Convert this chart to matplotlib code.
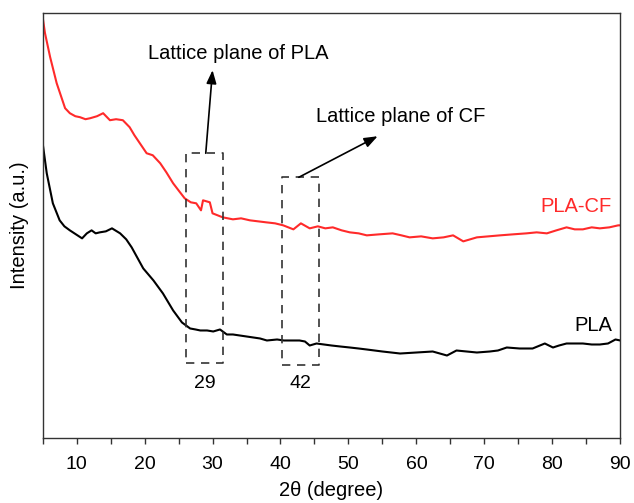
import matplotlib
matplotlib.use("Agg")
import matplotlib.pyplot as plt
import numpy as np

plt.rcParams['font.family'] = ['Liberation Sans', 'DejaVu Sans']

# Intensity in arbitrary units (higher = more intense)
# PLA-CF (red)
x_cf = [5.0, 5.02, 5.34, 6.1, 7.06, 8.3, 9.0, 9.8, 10.5, 11.3, 12.0, 13.0, 13.9, 14.9, 15.8,
        16.8, 17.8, 18.5, 19.3, 20.3, 21.2, 22.3, 23.2, 24.2, 25.1, 25.9, 26.8, 27.6, 28.3,
        28.6, 29.6, 30.0, 31.5, 33.0, 34.2, 35.5, 36.7, 37.9, 39.2, 40.4, 41.9,
        43.0, 44.3, 45.5, 46.6, 47.7, 49.0, 50.2, 51.5, 52.7, 54.5, 56.5, 57.8, 59.0, 60.7,
        62.4, 64.0, 65.4, 66.9, 68.9, 70.6, 72.3, 74.2, 76.2, 77.7, 79.2, 80.6, 82.1, 83.3,
        84.5, 85.8, 87.0, 88.4, 89.7, 90.0]
y_cf = [385, 419, 404, 380, 354, 329, 324, 321, 320, 318, 319, 321, 324, 317, 318,
        317, 310, 302, 294, 284, 282, 274, 265, 254, 246, 239, 235, 234, 227,
        237, 235, 224, 220, 218, 219, 217, 216, 215, 214, 212, 208,
        214, 209, 211, 209, 210, 207, 205, 204, 202, 203, 204, 202, 200, 201,
        199, 200, 202, 196, 200, 201, 202, 203, 204, 205, 204, 207, 210, 208,
        208, 210, 209, 210, 212, 212]

# PLA (black)
x_pla = [5.0, 5.6, 6.5, 7.5, 8.2, 9.0, 9.9, 10.8, 11.5, 12.2, 12.8, 13.4, 14.3, 15.2, 16.4,
         17.3, 18.1, 19.8, 21.3, 22.7, 24.2, 25.5, 26.7, 27.5, 28.2, 29.2, 30.1, 31.1, 32.1,
         33.0, 34.0, 35.0, 36.0, 37.0, 38.0, 39.5, 40.5, 41.4, 42.8, 43.6,
         44.3, 45.3, 46.4, 47.5, 48.8, 50.2, 51.5, 52.7, 55.0, 57.6, 60.0, 62.4, 64.5, 65.9,
         67.4, 68.9, 70.8, 72.0, 73.3, 75.2, 77.1, 78.9, 80.1, 81.0, 82.1, 83.3, 84.5, 85.8,
         87.0, 88.2, 89.3, 90.0]
y_pla = [294, 264, 234, 217, 211, 207, 203, 199, 204, 207, 204, 205, 206, 209, 204,
         198, 190, 169, 157, 144, 127, 115, 109, 108, 107, 107, 106, 108, 103,
         103, 102, 101, 100, 99, 97, 98, 97, 97, 97, 96,
         92, 94, 93, 92, 91, 90, 89, 88, 86, 84, 85, 86, 82, 87,
         86, 85, 86, 87, 90, 89, 89, 94, 90, 92, 94, 94, 94, 93,
         93, 94, 98, 97]

xticks = [10, 20, 30, 40, 50, 60, 70, 80, 90]

fig = plt.figure(figsize=(6.34, 5.03), dpi=100)
ax = fig.add_axes([0.0673, 0.130, 0.911, 0.844])

ax.plot(x_cf, y_cf, color='#ff2a2a', lw=1.5)
ax.plot(x_pla, y_pla, color='black', lw=1.5)

ax.set_xlim(5, 90)
ax.set_ylim(0, 424)
ax.set_xticks(xticks)
ax.set_xticks(np.arange(5, 91, 5), minor=True)
ax.set_yticks([])
ax.tick_params(axis='x', which='both', direction='out', length=4, width=1,
               labelsize=14, colors='#333333', labelcolor='black', pad=9)
for s in ax.spines.values():
    s.set_color('#333333')
    s.set_linewidth(1.0)

ax.set_xlabel('2θ (degree)', fontsize=14.5, labelpad=6)
ax.set_ylabel('Intensity (a.u.)', fontsize=14.5, labelpad=10)

# dashed boxes
box_style = dict(color='#333333', lw=1.2, ls=(0, (5, 4)))
def box(x0, x1, y0, y1):
    ax.plot([x0, x1, x1, x0, x0], [y0, y0, y1, y1, y0], **box_style)

box(26.1, 31.5, 75, 284)
box(40.2, 45.6, 73, 260)

ax.text(28.8, 54, '29', fontsize=14, ha='center', va='center')
ax.text(42.9, 54, '42', fontsize=14, ha='center', va='center')

ax.annotate('', xy=(30.0, 367), xytext=(29.0, 284),
            arrowprops=dict(arrowstyle='-|>,head_length=0.8,head_width=0.3',
                            color='black', lw=1.2, shrinkA=0, shrinkB=0))
ax.text(20.5, 384, 'Lattice plane of PLA', fontsize=14.5, ha='left', va='center')

ax.annotate('', xy=(54.3, 301), xytext=(42.7, 260),
            arrowprops=dict(arrowstyle='-|>,head_length=0.8,head_width=0.3',
                            color='black', lw=1.2, shrinkA=0, shrinkB=0))
ax.text(45.2, 321, 'Lattice plane of CF', fontsize=14.5, ha='left', va='center')

ax.text(88.8, 231, 'PLA-CF', fontsize=14.5, ha='right', va='center', color='#ff2a2a')
ax.text(88.8, 112, 'PLA', fontsize=14.5, ha='right', va='center', color='black')

fig.savefig('out.png', dpi=100)
